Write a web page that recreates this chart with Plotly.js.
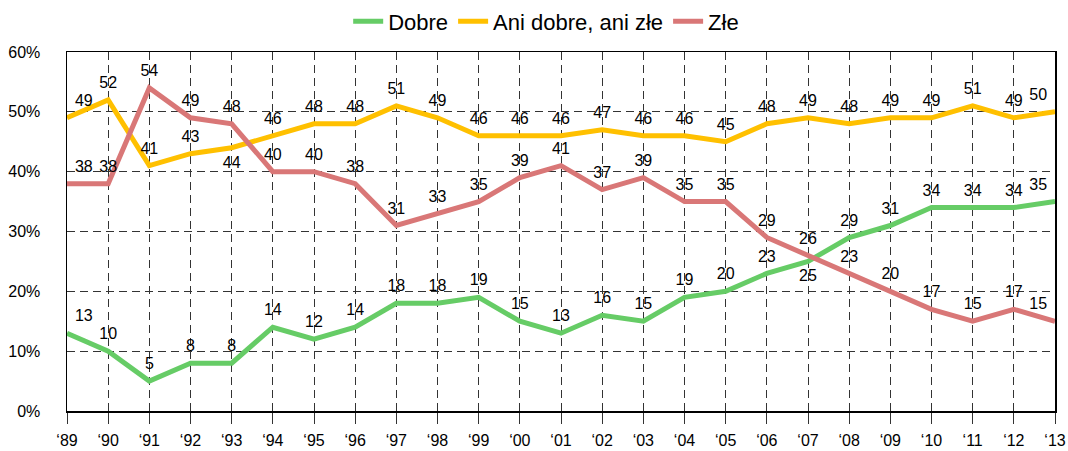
<!DOCTYPE html>
<html>
<head>
<meta charset="utf-8">
<script src="https://cdn.plot.ly/plotly-3.0.1.min.js"></script>
<style>html,body{margin:0;padding:0;background:#fff;}#chart{width:1068px;height:451px;}</style>
</head>
<body>
<div id="chart"></div>
<script>
const years = [1989,1990,1991,1992,1993,1994,1995,1996,1997,1998,1999,2000,2001,2002,2003,2004,2005,2006,2007,2008,2009,2010,2011,2012,2013];
const tickLabels = ["‘89","‘90","‘91","‘92","‘93","‘94","‘95","‘96","‘97","‘98","‘99","‘00","‘01","‘02","‘03","‘04","‘05","‘06","‘07","‘08","‘09","‘10","‘11","‘12","‘13"];
const yTickVals = [0,10,20,30,40,50,60];
const yTickLabels = ["0%","10%","20%","30%","40%","50%","60%"];
const dobre = [13,10,5,8,8,14,12,14,18,18,19,15,13,16,15,19,20,23,25,29,31,34,34,34,35];
const ani = [49,52,41,43,44,46,48,48,51,49,46,46,46,47,46,46,45,48,49,48,49,49,51,49,50];
const zle = [38,38,54,49,48,40,40,38,31,33,35,39,41,37,39,35,35,29,26,23,20,17,15,17,15];
const seriesNames = ["Dobre","Ani dobre, ani złe","Złe"];

function positions(below){
  return years.map((y,i)=>{
    if(i===0) return "top right";
    if(i===years.length-1) return "top left";
    if(below.includes(y)) return "bottom center";
    return "top center";
  });
}

const font = "Liberation Sans, Arial, sans-serif";
function trace(vals, name, color, below){
  return {
    x: years, y: vals, name: name, type: "scatter", mode: "lines+markers+text",
    line: {color: color, width: 5},
    marker: {size: 11, color: "rgba(0,0,0,0)"},
    text: vals.map(String),
    textposition: positions(below),
    textfont: {family: font, size: 16, color: "#000"},
    cliponaxis: false,
    hoverinfo: "skip"
  };
}

const data = [
  trace(dobre, seriesNames[0], "#66CC66", [2007]),
  trace(ani, seriesNames[1], "#FFC000", [1993]),
  trace(zle, seriesNames[2], "#D97777", [])
];

const gridDash = "8px,5px";
const layout = {
  width: 1068, height: 451,
  margin: {l: 67, r: 13, t: 52, b: 40, autoexpand: false},
  paper_bgcolor: "#fff", plot_bgcolor: "#fff",
  font: {family: font, size: 16, color: "#000"},
  showlegend: true,
  legend: {orientation: "h", x: 0.485, xanchor: "center", y: 1.085, yanchor: "middle",
           font: {family: font, size: 22, color: "#000"}, itemwidth: 30},
  xaxis: {
    range: [1989, 2013], tickvals: years, ticktext: tickLabels,
    showgrid: true, gridcolor: "#333", griddash: gridDash, gridwidth: 1,
    showline: true, linecolor: "#000", linewidth: 1.5, mirror: true,
    ticks: "outside", ticklen: 11, tickcolor: "#333", tickwidth: 1, ticklabelstandoff: 3,
    zeroline: false, automargin: false, tickfont: {family: font, size: 16, color: "#000"}
  },
  yaxis: {
    range: [0, 60], tickvals: yTickVals, ticktext: yTickLabels,
    showgrid: true, gridcolor: "#333", griddash: gridDash, gridwidth: 1,
    showline: true, linecolor: "#000", linewidth: 1.5, mirror: true,
    ticks: "", ticklabelstandoff: 22, zeroline: false, automargin: false,
    tickfont: {family: font, size: 16, color: "#000"}
  }
};

Plotly.newPlot("chart", data, layout, {displayModeBar: false, staticPlot: true});
</script>
</body>
</html>
